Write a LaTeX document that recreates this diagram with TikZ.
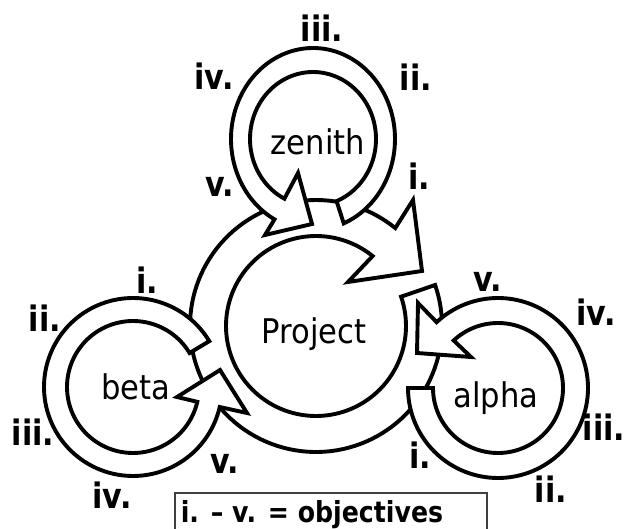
\documentclass[tikz,border=0pt]{standalone}
\usepackage{fontspec}
\setmainfont{DejaVu Sans}
\usepackage{graphicx}
\newcommand{\bigtxt}[1]{\scalebox{0.9}[1]{\fontsize{34}{40}\selectfont #1}}
\newcommand{\objlbl}[1]{\scalebox{0.86}[1]{\fontsize{35}{40}\selectfont\bfseries #1}}
\newcommand{\legtxt}[1]{\scalebox{0.87}[1]{\fontsize{29}{34}\selectfont\bfseries #1}}
\begin{document}
\begin{tikzpicture}[x=1pt,y=-1pt,
  ring/.style={draw=black, fill=white, line width=3.9pt, line join=miter},
  lab/.style={anchor=base, inner sep=0pt},
  legendbox/.style={draw=black!75, line width=1.5pt}]
\clip (0,0) rectangle (626,529);
\fill[white] (0,0) rectangle (626,529);
% Project
\filldraw[ring] plot[domain=-19:309, samples=120] ({316+126*cos(\x)},{326+126*sin(\x)})
  -- (413,200) -- (422,271) -- (348,282)
  -- plot[domain=0:328, samples=120] ({316+90*cos(309-\x)},{326+90*sin(309-\x)}) -- cycle;
% zenith
\filldraw[ring] plot[domain=0:310, samples=120] ({313+82*cos(68-\x)},{139+91*sin(68-\x)})
  -- (265,235) -- (312,224) -- (298,173)
  -- plot[domain=-243:68, samples=120] ({313+63*cos(\x)},{139+67*sin(\x)}) -- cycle;
% alpha
\filldraw[ring] plot[domain=0:313, samples=120] ({498+90*cos(180-\x)},{388+90*sin(180-\x)})
  -- (418,303) -- (417,353) -- (471,357)
  -- plot[domain=-133:180, samples=120] ({498+65*cos(\x)},{388+65*sin(\x)}) -- cycle;
% beta
\filldraw[ring] plot[domain=0:316, samples=120] ({133+89*cos(-31-\x)},{387+89*sin(-31-\x)})
  -- (247,413) -- (220,370) -- (177,397)
  -- plot[domain=-347:-31, samples=120] ({133+66*cos(\x)},{387+66*sin(\x)}) -- cycle;
% names
\node[lab] (tproject) at (314,343) {\bigtxt{Project}};
\node[lab] (tzenith) at (318,155) {\bigtxt{zenith}};
\node[lab] (tbeta) at (136,399) {\bigtxt{beta}};
\node[lab] (talpha) at (496,407) {\bigtxt{alpha}};
% zenith labels
\node[lab] (z1) at (419,190) {\objlbl{i.}};
\node[lab] (z2) at (416,91) {\objlbl{ii.}};
\node[lab] (z3) at (322,42) {\objlbl{iii.}};
\node[lab] (z4) at (214,90) {\objlbl{iv.}};
\node[lab] (z5) at (220,197) {\objlbl{v.}};
% beta labels
\node[lab] (b1) at (147,293) {\objlbl{i.}};
\node[lab] (b2) at (45,331) {\objlbl{ii.}};
\node[lab] (b3) at (33,445) {\objlbl{iii.}};
\node[lab] (b4) at (112,508) {\objlbl{iv.}};
\node[lab] (b5) at (225,473) {\objlbl{v.}};
% alpha labels
\node[lab] (a1) at (420,468) {\objlbl{i.}};
\node[lab] (a2) at (551,502) {\objlbl{ii.}};
\node[lab] (a3) at (604,440) {\objlbl{iii.}};
\node[lab] (a4) at (596,325) {\objlbl{iv.}};
\node[lab] (a5) at (488,291) {\objlbl{v.}};
% legend
\draw[legendbox] (175,493) rectangle (487,545);
\node[lab] (legend) at (312,522) {\legtxt{i. – v. = objectives}};
\end{tikzpicture}
\end{document}
